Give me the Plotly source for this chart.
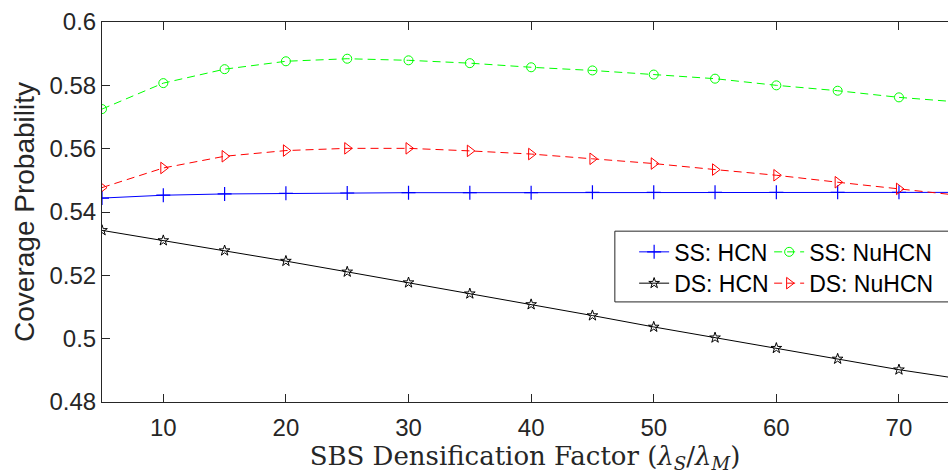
import plotly.graph_objects as go

x_vals = [5, 10, 15, 20, 25, 30, 35, 40, 45, 50, 55, 60, 65, 70, 75]
ss_hcn = [0.5444, 0.5453, 0.5457, 0.5459, 0.5460, 0.5461, 0.5461, 0.5461,
          0.5462, 0.5462, 0.5462, 0.5462, 0.5462, 0.5462, 0.5462]
ss_nuhcn = [0.5725, 0.5807, 0.5851, 0.5876, 0.5884, 0.5879, 0.5870, 0.5857,
            0.5847, 0.5834, 0.5821, 0.5800, 0.5783, 0.5762, 0.5747]
ds_hcn = [0.5342, 0.5310, 0.5278, 0.5245, 0.5211, 0.5177, 0.5142, 0.5108,
          0.5073, 0.5037, 0.5003, 0.4970, 0.4936, 0.4902, 0.4873]
ds_nuhcn = [0.5477, 0.5539, 0.5576, 0.5594, 0.5601, 0.5601, 0.5593, 0.5583,
            0.5568, 0.5553, 0.5534, 0.5516, 0.5494, 0.5473, 0.5452]

x_ticks = [10, 20, 30, 40, 50, 60, 70]
y_ticks = [0.48, 0.5, 0.52, 0.54, 0.56, 0.58, 0.6]
y_ticktext = ["0.48", "0.5", "0.52", "0.54", "0.56", "0.58", "0.6"]

AX = "#262626"
SANS = "Liberation Sans, Arial, sans-serif"

fig = go.Figure()
fig.add_trace(go.Scatter(
    x=x_vals, y=ss_hcn, name="SS: HCN", mode="lines+markers", legend="legend",
    legendwidth=90,
    line=dict(color="#0000ff", width=1),
    marker=dict(symbol="cross-thin-open", size=10, line=dict(color="#0000ff", width=1.2))))
fig.add_trace(go.Scatter(
    x=x_vals, y=ss_nuhcn, name="SS: NuHCN", mode="lines+markers", legend="legend",
    legendwidth=118,
    line=dict(color="#00ff00", width=1, dash="8px,5px"),
    marker=dict(symbol="circle-open", size=9, color="#00ff00", line=dict(color="#00ff00", width=1))))
fig.add_trace(go.Scatter(
    x=x_vals, y=ds_hcn, name="DS: HCN", mode="lines+markers", legend="legend2",
    legendwidth=90,
    line=dict(color="#000000", width=1),
    marker=dict(symbol="star-open", size=8, color="#000000", line=dict(color="#000000", width=1))))
fig.add_trace(go.Scatter(
    x=x_vals, y=ds_nuhcn, name="DS: NuHCN", mode="lines+markers", legend="legend2",
    legendwidth=118,
    line=dict(color="#ff0000", width=1, dash="8px,5px"),
    marker=dict(symbol="triangle-right-open", size=10, color="#ff0000", line=dict(color="#ff0000", width=1))))

leg_common = dict(
    orientation="h", xanchor="left", yanchor="middle",
    bgcolor="rgba(0,0,0,0)", borderwidth=0,
    font=dict(family=SANS, size=23, color="#000000"),
    entrywidthmode="pixels", itemwidth=30,
)

fig.update_layout(
    width=948, height=474,
    margin=dict(l=102, r=0, t=22, b=72, autoexpand=False),
    paper_bgcolor="white", plot_bgcolor="white",
    showlegend=True,
    legend=dict(x=0.629, y=0.395, **leg_common),
    legend2=dict(x=0.629, y=0.3126, **leg_common),
    shapes=[dict(type="rect", xref="paper", yref="paper",
                 x0=0.6062, x1=1.05, y0=(401.7 - 301.7) / 379.7, y1=(401.7 - 231) / 379.7,
                 line=dict(color=AX, width=1), fillcolor="white", layer="below")],
    xaxis=dict(
        range=[5, 74], tickvals=x_ticks, ticks="inside", ticklen=8, tickcolor=AX,
        showline=True, linecolor=AX, linewidth=1, mirror="ticks",
        showgrid=False, zeroline=False, ticklabelstandoff=4,
        tickfont=dict(family=SANS, size=24, color=AX),
        title=dict(text="SBS Densification Factor (<i>λ</i><sub><i>S</i></sub>/<i>λ</i><sub><i>M</i></sub>)",
                   font=dict(family="DejaVu Serif, serif", size=26, color=AX),
                   standoff=1),
    ),
    yaxis=dict(
        range=[0.48, 0.6], tickvals=y_ticks, ticktext=y_ticktext, ticks="inside", ticklen=8,
        tickcolor=AX, showline=True, linecolor=AX, linewidth=1, mirror=False,
        showgrid=False, zeroline=False,
        tickfont=dict(family=SANS, size=24, color=AX),
        title=dict(text="Coverage Probability", font=dict(family=SANS, size=28, color=AX), standoff=6),
    ),
)

fig.write_html("out.html")
